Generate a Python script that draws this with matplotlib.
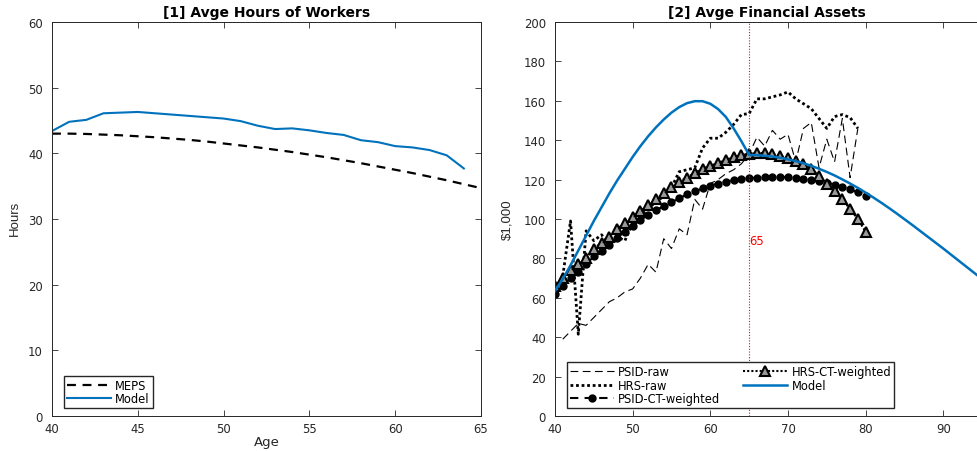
import numpy as np
import matplotlib
matplotlib.use("Agg")
import matplotlib.pyplot as plt

plt.rcParams['font.family'] = 'DejaVu Sans'

# ---- panel 1: hours of workers
age_meps = np.arange(40, 66)
hours_meps = [43.0, 43.0, 42.95, 42.85, 42.75, 42.6, 42.45, 42.25, 42.05, 41.8,
              41.5, 41.2, 40.9, 40.55, 40.2, 39.8, 39.4, 38.95, 38.5, 38.0,
              37.5, 37.0, 36.45, 35.9, 35.3, 34.7]
age_model_h = np.arange(40, 65)
hours_model = [43.4, 44.8, 45.1, 46.1, 46.2, 46.3, 46.1, 45.9, 45.7, 45.5,
               45.3, 44.9, 44.2, 43.7, 43.8, 43.5, 43.1, 42.8, 42.0, 41.7,
               41.1, 40.9, 40.5, 39.7, 37.7]

# ---- panel 2: financial assets
age_raw = np.arange(41, 80)
psid_raw = [39, 43, 47, 46, 50, 54, 58, 60, 63, 64.5,
            70, 77, 73, 90, 85, 95, 92, 110, 105, 118,
            120, 123, 125, 128, 133, 141.5, 137, 145, 140.5, 143,
            129, 146, 149, 126, 140.5, 129, 151, 121, 146]
hrs_raw = [71, 99, 41.5, 94, 89, 92, 87, 91, 89, 98,
           101, 106, 108, 112, 116, 124, 125, 126, 136, 141,
           141, 144, 148, 153, 153.5, 161, 161, 162, 163, 164.5,
           161, 158.5, 156, 151, 146, 152, 153, 151.5, 146]
age_ct = np.arange(40, 81)
psid_ct = [62, 66, 70, 73, 77, 81, 84, 87, 90.5, 93.5,
           96.5, 99.5, 102, 104.5, 106.5, 108.5, 110.5, 112.5, 114, 115.5,
           117, 118, 119, 119.7, 120.3, 120.7, 121, 121.2, 121.3, 121.3,
           121.2, 121, 120.5, 120, 119.3, 118.5, 117.5, 116.3, 115, 113.5, 111.5]
hrs_ct = [66, 70, 74, 77, 80, 85, 88, 91, 95, 98,
          101, 104, 107, 110, 113, 116, 119, 121, 123.5, 125.5,
          127, 128.5, 130, 131.5, 132.5, 133, 133.5, 133.5, 133, 132,
          131, 129.5, 128, 125.5, 122, 118, 114, 110, 105, 100, 93.5]
age_model_a = np.arange(40, 96)
assets_model = [63.5, 69.5, 76.5, 84, 91.5, 99, 106, 113, 119.5, 125.5,
                131.5, 137, 142, 146.5, 150.5, 154, 156.8, 158.8, 159.8, 159.8,
                158.5, 155.8, 151.8, 146, 139.5, 132.5, 132.4, 132.1, 131.7, 131.1,
                130.3, 129.4, 128.3, 127.0, 125.5, 123.9, 122.1, 120.1, 118.0, 115.8,
                113.4, 110.9, 108.3, 105.6, 102.8, 99.9, 97.0, 94.0, 91.0, 88.0,
                85.0, 81.9, 78.8, 75.7, 72.6, 69.5]
retire_age = 65

blue = '#0072BD'
label_font = ['Liberation Sans Narrow', 'Liberation Sans', 'DejaVu Sans']

fig = plt.figure(figsize=(9.77, 4.52), dpi=100)
ax1 = fig.add_axes([52/977, 35/452, 429/977, 394/452])
ax2 = fig.add_axes([555/977, 35/452, 424/977, 394/452])

for ax in (ax1, ax2):
    ax.tick_params(direction='in', length=4, width=0.6, top=True, right=True,
                   labelsize=8.4, colors='0.15')
    ax.tick_params(axis='x', pad=4)
    ax.tick_params(axis='y', pad=6.5)
    for s in ax.spines.values():
        s.set_linewidth(0.7)
        s.set_color('0.15')

ax1.plot(age_meps, hours_meps, color='k', ls=(0, (4, 3)), lw=1.6, label='MEPS')
ax1.plot(age_model_h, hours_model, color=blue, lw=1.5, label='Model')
ax1.set_xlim(40, 65)
ax1.set_ylim(0, 60)
ax1.set_xticks(range(40, 66, 5))
ax1.set_yticks(range(0, 61, 10))
ax1.set_title('[1] Avge Hours of Workers', fontsize=10, fontweight='bold', pad=4)
ax1.set_xlabel('Age', fontsize=9.5, color='0.15', labelpad=0)
ax1.set_ylabel('Hours', fontsize=9.5, family=label_font, color='0.15')
ax1.yaxis.set_label_coords(-0.072, 0.505)
ax1.legend(loc='lower left', bbox_to_anchor=(0.028, 0.02), fontsize=8.3,
           frameon=True, fancybox=False, edgecolor='0.15', framealpha=1,
           borderpad=0.25, labelspacing=0.05, handlelength=3.8, handletextpad=0.4,
           borderaxespad=0)

ax2.plot(age_raw, psid_raw, color='k', ls=(0, (7, 4)), lw=0.8, label='PSID-raw')
ax2.plot(age_raw, hrs_raw, color='k', ls=(0, (1, 1)), lw=2.0, label='HRS-raw')
ax2.plot(age_ct, psid_ct, color='k', ls=(0, (4, 3)), lw=1.5, marker='o', ms=5,
         label='PSID-CT-weighted')
ax2.plot(age_ct, hrs_ct, color='k', ls=(0, (1, 1)), lw=1.5, marker='^', ms=6.5,
         mfc='0.6', mec='k', mew=1.5, label='HRS-CT-weighted')
ax2.plot(age_model_a, assets_model, color=blue, lw=1.8, label='Model', zorder=5)
ax2.axvline(retire_age, color='red', ls=(0, (1, 1.5)), lw=0.8)
ax2.text(retire_age, 89, '65', color='red', fontsize=8.4, va='center', ha='left')
ax2.set_xlim(40, 94.6)
ax2.set_ylim(0, 200)
ax2.set_xticks(range(40, 91, 10))
ax2.set_yticks(range(0, 201, 20))
ax2.spines['right'].set_visible(False)
ax2.tick_params(right=False)
ax2.set_title('[2] Avge Financial Assets', fontsize=10, fontweight='bold', pad=4)
ax2.set_ylabel(r'\$1,000', fontsize=9.5, family=label_font, color='0.15')
ax2.yaxis.set_label_coords(-0.098, 0.5)
ax2.legend(loc='lower left', bbox_to_anchor=(0.028, 0.02), fontsize=8.3, ncol=2,
           frameon=True, fancybox=False, edgecolor='0.15', framealpha=1,
           borderpad=0.25, labelspacing=0.05, handlelength=3.8, handletextpad=0.4,
           columnspacing=2.0, borderaxespad=0)

fig.savefig('out.png', dpi=100)
